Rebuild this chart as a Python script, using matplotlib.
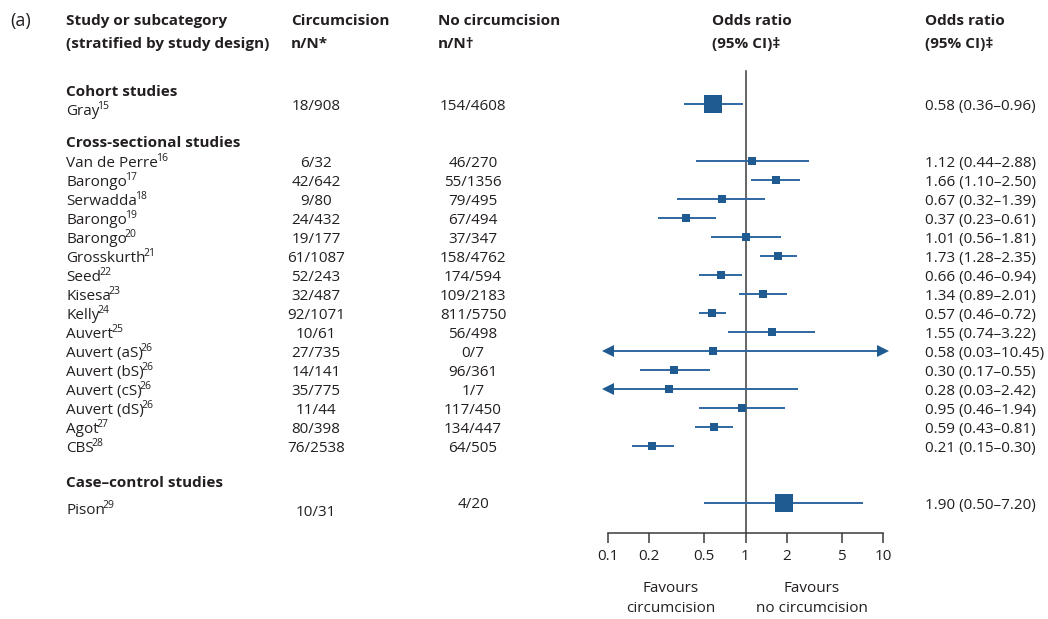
import matplotlib
matplotlib.use("Agg")
import matplotlib.pyplot as plt
from matplotlib.ticker import NullLocator
from matplotlib.transforms import offset_copy

plt.rcParams['font.family'] = ['Open Sans', 'DejaVu Sans']

# ---- data -------------------------------------------------------------
groups = ["Cohort studies", "Cross-sectional studies", "Case\u2013control studies"]
group_of_study = [0] + [1] * 16 + [2]

studies = ["Gray", "Van de Perre", "Barongo", "Serwadda", "Barongo", "Barongo",
           "Grosskurth", "Seed", "Kisesa", "Kelly", "Auvert", "Auvert (aS)",
           "Auvert (bS)", "Auvert (cS)", "Auvert (dS)", "Agot", "CBS", "Pison"]
refs = [15, 16, 17, 18, 19, 20, 21, 22, 23, 24, 25, 26, 26, 26, 26, 27, 28, 29]

circ_n = [18, 6, 42, 9, 24, 19, 61, 52, 32, 92, 10, 27, 14, 35, 11, 80, 76, 10]
circ_N = [908, 32, 642, 80, 432, 177, 1087, 243, 487, 1071, 61, 735, 141, 775,
          44, 398, 2538, 31]
nocirc_n = [154, 46, 55, 79, 67, 37, 158, 174, 109, 811, 56, 0, 96, 1, 117,
            134, 64, 4]
nocirc_N = [4608, 270, 1356, 495, 494, 347, 4762, 594, 2183, 5750, 498, 7, 361,
            7, 450, 447, 505, 20]

odds = [0.58, 1.12, 1.66, 0.67, 0.37, 1.01, 1.73, 0.66, 1.34, 0.57, 1.55, 0.58,
        0.30, 0.28, 0.95, 0.59, 0.21, 1.90]
ci_low = [0.36, 0.44, 1.10, 0.32, 0.23, 0.56, 1.28, 0.46, 0.89, 0.46, 0.74,
          0.03, 0.17, 0.03, 0.46, 0.43, 0.15, 0.50]
ci_high = [0.96, 2.88, 2.50, 1.39, 0.61, 1.81, 2.35, 0.94, 2.01, 0.72, 3.22,
           10.45, 0.55, 2.42, 1.94, 0.81, 0.30, 7.20]

axis_ticks = [0.1, 0.2, 0.5, 1, 2, 5, 10]
axis_tick_labels = ["0.1", "0.2", "0.5", "1", "2", "5", "10"]

# ---- style / layout -----------------------------------------------------
W, H = 1048, 619
ROW_PX = 19.0          # vertical spacing of study rows (pixels)
FIRST_ROW_PX = 104.0   # pixel height of the first study row
GROUP_GAP = 2          # empty rows between design groups
TEXT = '#231f20'
SQUARE = '#1f5a91'
WHISKER = '#2e67a2'
AXIS = '#3a3a3a'
FS = 11.0
SUP_FS = 7.5

# bigger squares for the single-study groups
square_pt = [13 if group_of_study.count(group_of_study[i]) == 1 else 6.2
             for i in range(len(studies))]

# row position of each study
rows = []
pos = 0.0
for i, g in enumerate(group_of_study):
    if i > 0:
        pos += 1
        if g != group_of_study[i - 1]:
            pos += GROUP_GAP
    rows.append(pos)

y_top = -FIRST_ROW_PX / ROW_PX
y_bot = (H - FIRST_ROW_PX) / ROW_PX
axis_row = (533 - FIRST_ROW_PX) / ROW_PX
vline_top = (71 - FIRST_ROW_PX) / ROW_PX

fig = plt.figure(figsize=(W / 100, H / 100), dpi=100)
renderer = fig.canvas.get_renderer()

# text layer in pixel x / row y coordinates
tx = fig.add_axes([0, 0, 1, 1])
tx.set_xlim(0, W)
tx.set_ylim(y_bot, y_top)
tx.axis('off')
sup_transform = offset_copy(tx.transData, fig=fig, x=-2, y=6, units='dots')

# forest plot layer (log odds-ratio scale)
X0, X1 = 608, 883
fa = fig.add_axes([X0 / W, 0, (X1 - X0) / W, 1])
fa.patch.set_visible(False)
fa.set_xscale('log')
fa.set_xlim(axis_ticks[0], axis_ticks[-1])
fa.set_ylim(y_bot, y_top)
for s in ('top', 'right', 'left'):
    fa.spines[s].set_visible(False)
fa.spines['bottom'].set_position(('data', axis_row))
fa.spines['bottom'].set_color(AXIS)
fa.spines['bottom'].set_linewidth(1.1)
fa.set_yticks([])
fa.set_xticks(axis_ticks)
fa.set_xticklabels(axis_tick_labels)
fa.xaxis.set_minor_locator(NullLocator())
fa.tick_params(axis='x', direction='out', length=7.2, width=1.1, color=AXIS,
               pad=4, labelsize=FS, labelcolor=TEXT)

# line of no effect
fa.plot([1, 1], [vline_top, axis_row], color=AXIS, lw=1.1, zorder=1)

lo_lim, hi_lim = axis_ticks[0], axis_ticks[-1]
for i, y in enumerate(rows):
    lo = max(ci_low[i], lo_lim)
    hi = min(ci_high[i], hi_lim)
    fa.plot([lo, hi], [y, y], color=WHISKER, lw=1.4, solid_capstyle='butt',
            zorder=2)
    if ci_low[i] < lo_lim:
        fa.plot(lo_lim, y, marker='<', ms=8, color=SQUARE, mew=0,
                clip_on=False, zorder=3)
    if ci_high[i] > hi_lim:
        fa.plot(hi_lim, y, marker='>', ms=8, color=SQUARE, mew=0,
                clip_on=False, zorder=3)
    fa.plot(odds[i], y, marker='s', ms=square_pt[i], color=SQUARE, mew=0,
            zorder=4)

# ---- column headers -----------------------------------------------------
h1 = (21 - FIRST_ROW_PX) / ROW_PX
h2 = (44 - FIRST_ROW_PX) / ROW_PX
hkw = dict(fontsize=FS, fontweight='bold', color=TEXT, va='center')
tx.text(10, h1, "(a)", fontsize=FS + 2, color=TEXT, va='center')
tx.text(66, h1, "Study or subcategory", **hkw)
tx.text(66, h2, "(stratified by study design)", **hkw)
tx.text(291, h1, "Circumcision", **hkw)
tx.text(291, h2, "n/N*", **hkw)
tx.text(438, h1, "No circumcision", **hkw)
tx.text(438, h2, "n/N\u2020", **hkw)
tx.text(712, h1, "Odds ratio", **hkw)
tx.text(712, h2, "(95% CI)\u2021", **hkw)
tx.text(925, h1, "Odds ratio", **hkw)
tx.text(925, h2, "(95% CI)\u2021", **hkw)

# ---- group headings and study rows -------------------------------------
group_head_offset = {0: -0.63, 1: -0.95, 2: -1.05}
seen = set()
for i, y in enumerate(rows):
    g = group_of_study[i]
    single = group_of_study.count(g) == 1
    if g not in seen:
        seen.add(g)
        tx.text(66, y + group_head_offset[g], groups[g], **hkw)
    # study name with its reference number as a superscript
    name_y = y + (0.58 if single else 0.33)
    name = tx.text(66, name_y, studies[i], fontsize=FS, color=TEXT,
                   va='baseline')
    x_end = name.get_window_extent(renderer=renderer).x1
    x_end = tx.transData.inverted().transform((x_end, 0))[0]
    tx.text(x_end, name_y, str(refs[i]), fontsize=SUP_FS, color=TEXT,
            va='baseline', transform=sup_transform)

    circ_y = y + (0.4 if g == 2 else 0.05)
    tx.text(316, circ_y, f"{circ_n[i]}/{circ_N[i]}", fontsize=FS, color=TEXT,
            ha='center', va='center_baseline')
    nocirc_y = y + (-0.05 if g == 2 else 0.05)
    tx.text(473, nocirc_y, f"{nocirc_n[i]}/{nocirc_N[i]}", fontsize=FS,
            color=TEXT, ha='center', va='center_baseline')
    tx.text(925, y + 0.05,
            f"{odds[i]:.2f} ({ci_low[i]:.2f}\u2013{ci_high[i]:.2f})",
            fontsize=FS, color=TEXT, va='center_baseline')

# ---- favours labels ------------------------------------------------------
f1 = (589 - FIRST_ROW_PX) / ROW_PX
f2 = (609 - FIRST_ROW_PX) / ROW_PX
tx.text(671, f1, "Favours", fontsize=FS, color=TEXT, ha='center', va='center')
tx.text(671, f2, "circumcision", fontsize=FS, color=TEXT, ha='center',
        va='center')
tx.text(812, f1, "Favours", fontsize=FS, color=TEXT, ha='center', va='center')
tx.text(812, f2, "no circumcision", fontsize=FS, color=TEXT, ha='center',
        va='center')

fig.savefig("out.png", dpi=100)
